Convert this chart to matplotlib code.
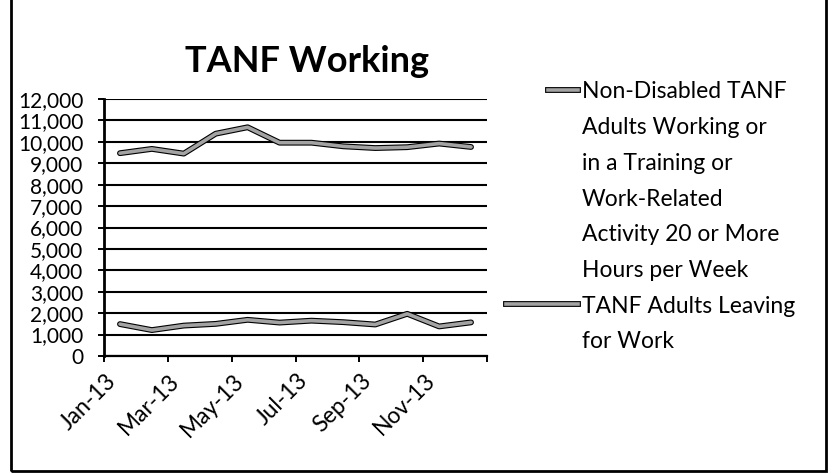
"""TANF Working line chart (saved as PNG)."""

import matplotlib

matplotlib.use("Agg")
import matplotlib.pyplot as plt
import matplotlib.patheffects as pe
import matplotlib.transforms as mtransforms
from matplotlib.lines import Line2D
from matplotlib.patches import Rectangle

months = ["Jan-13", "Feb-13", "Mar-13", "Apr-13", "May-13", "Jun-13",
          "Jul-13", "Aug-13", "Sep-13", "Oct-13", "Nov-13", "Dec-13"]
working = [9470, 9670, 9450, 10380, 10680, 9960,
           9960, 9790, 9710, 9750, 9920, 9760]
leaving = [1490, 1210, 1420, 1500, 1690, 1560,
           1650, 1580, 1470, 1970, 1380, 1570]
labels = ["Non-Disabled TANF\nAdults Working or\nin a Training or\nWork-Related\nActivity 20 or More\nHours per Week",
          "TANF Adults Leaving\nfor Work"]

plt.rcParams["font.family"] = ["Lato", "DejaVu Sans"]

W, H = 832, 474
fig = plt.figure(figsize=(W / 100, H / 100), dpi=100)
ax = fig.add_axes([104 / W, 1 - 356 / H, 383 / W, 257 / H])

x = [i + 0.5 for i in range(len(months))]
fx = [pe.Stroke(linewidth=4.2, foreground="black"), pe.Normal()]
line_color = "#a3a3a3"
for vals in [working, leaving]:
    ax.plot(x, vals, color=line_color, linewidth=2.6, path_effects=fx,
            solid_joinstyle="round", solid_capstyle="round")

ax.set_xlim(0, 12)
ax.set_ylim(0, 12000)
ax.set_yticks(range(0, 12001, 1000))
ax.set_yticklabels([f"{v:,}" for v in range(0, 12001, 1000)], fontsize=15)
ax.yaxis.grid(True, color="black", linewidth=1.5)
ax.set_axisbelow(True)
ax.set_xticks(range(0, 13, 2))
ax.set_xticklabels([])
ax.set_xticks(x[::2], minor=True)
ax.set_xticklabels(months[::2], minor=True, rotation=45, ha="right",
                   va="top", fontsize=16.5)
shift = mtransforms.ScaledTranslation(14 / 100, 0, fig.dpi_scale_trans)
for t in ax.get_xticklabels(minor=True):
    t.set_transform(t.get_transform() + shift)
ax.tick_params(axis="x", which="minor", length=0, pad=10)
ax.tick_params(axis="both", which="major", length=4, width=1.4, direction="out")
ax.tick_params(axis="y", pad=11)
for s in ["top", "right"]:
    ax.spines[s].set_visible(False)
ax.spines["left"].set_linewidth(2)
ax.spines["bottom"].set_linewidth(1.6)

fig.text(307 / W, 1 - 62 / H, "TANF Working", ha="center", va="center",
         fontsize=26, fontweight="bold")

# legend drawn by hand: one text row per line, handle next to the first row
row = 35.7 / H
y0 = 1 - 90 / H
handle_x = [(548 / W, 578 / W), (506 / W, 578 / W)]
k = 0
for lab, hx in zip(labels, handle_x):
    rows = lab.split("\n")
    yy = y0 - k * row
    fig.add_artist(Line2D(hx, [yy, yy], transform=fig.transFigure,
                          color=line_color, linewidth=2.6, path_effects=fx))
    for r in rows:
        fig.text(582 / W, y0 - k * row, r, ha="left", va="center_baseline",
                 fontsize=16.5)
        k += 1

fig.add_artist(Rectangle((11 / W, 1 - 471 / H), 815 / W, 1.2,
                         transform=fig.transFigure, fill=False,
                         edgecolor="black", linewidth=2))

fig.savefig("out.png", dpi=100)
plt.close(fig)
